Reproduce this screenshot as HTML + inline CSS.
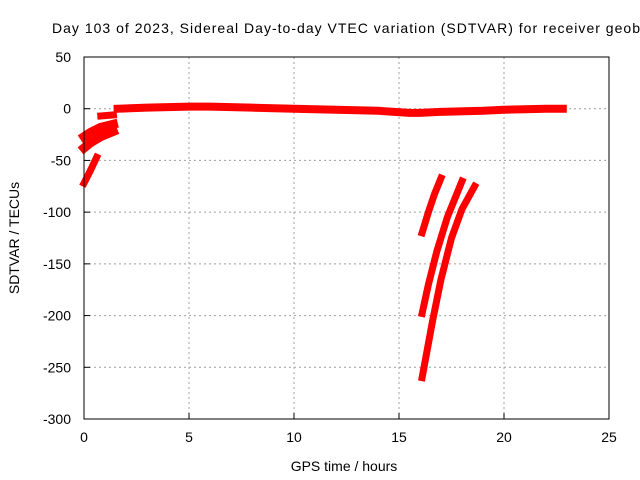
<!DOCTYPE html>
<html><head><meta charset="utf-8"><style>
body{margin:0;background:#fff}
svg{display:block;font-family:"Liberation Sans",sans-serif;font-size:14px}
</style></head><body>
<svg id="c" width="640" height="480">
<text x="52" y="33" textLength="588">Day 103 of 2023, Sidereal Day-to-day VTEC variation (SDTVAR) for receiver geob</text>
<text x="344" y="471" text-anchor="middle">GPS time / hours</text>
<text transform="translate(19,238) rotate(-90)" text-anchor="middle">SDTVAR / TECUs</text>
<g id="grid"></g><g id="marks"></g>
<rect x="84" y="57" width="525" height="362" fill="none" stroke="#000"/>
</svg>
<script>
const xTicks=[0,5,10,15,20,25];
const yTicks=[50,0,-50,-100,-150,-200,-250,-300];
const mainHours=[0.8,1.4,1.6,3,5,6,8,10,12,14,15.5,16,17,19,20,22,22.8];
const mainVals=[-7,-6,0,1,2,2,1,0,-1,-2,-4,-4,-3,-2,-1,0,0];
const arcAHours=[0,0.3,0.8,1.4];const arcAVals=[-27,-23,-18,-15];
const arcBHours=[0,0.3,0.8,1.4];const arcBVals=[-38,-33,-27,-22];
const arcCHours=[0,0.15,0.3,0.6];const arcCVals=[-72,-66,-60,-47];
const r1Hours=[16.1,16.4,16.7,17.0];const r1Vals=[-120,-100,-82,-67];
const r2Hours=[16.1,16.4,16.8,17.3,17.7,18.0];const r2Vals=[-198,-170,-138,-105,-85,-70];
const r3Hours=[16.1,16.3,16.6,17.0,17.5,18.0,18.6];const r3Vals=[-260,-238,-205,-165,-125,-97,-75];
const X=h=>84+h*21, Y=v=>57+(50-v)*362/350;
const NS="http://www.w3.org/2000/svg";
const g=document.getElementById('grid'),m=document.getElementById('marks'),svg=document.getElementById('c');
function mk(t,a,p){const e=document.createElementNS(NS,t);for(const k in a)e.setAttribute(k,a[k]);p.appendChild(e);return e;}
xTicks.forEach(t=>{const x=X(t);
 if(t>0&&t<25){const l=mk('line',{x1:x,x2:x,y1:57,y2:419,stroke:'#a0a0a0','stroke-dasharray':'2,3'},g);
 }
 const tk=mk('line',{x1:x,x2:x,y1:419,y2:413,stroke:'#000'},g);
 
 const tx=mk('text',{x:x,y:442,'text-anchor':'middle'},svg);tx.textContent=t;
 });
yTicks.forEach(t=>{const y=Y(t);
 if(t<50&&t>-300){const l=mk('line',{x1:84,x2:609,y1:y,y2:y,stroke:'#a0a0a0','stroke-dasharray':'2,3'},g);
 }
 const tk=mk('line',{x1:84,x2:90,y1:y,y2:y,stroke:'#000'},g);
 
 const tx=mk('text',{x:71,y:y+5,'text-anchor':'end'},svg);tx.textContent=t;
 });
function series(hs,vs,name,w){
 const pts=hs.map((h,i)=>X(h)+','+Y(vs[i])).join(' ');
 const p=mk('polyline',{points:pts,fill:'none',stroke:'#f00','stroke-width':w,'stroke-linejoin':'round','stroke-linecap':'square'},m);
 }
series(mainHours.slice(2),mainVals.slice(2),'series-main',8);
series(mainHours.slice(0,2),mainVals.slice(0,2),'series-main-start',7);
series(arcAHours,arcAVals,'series-arc-a',9);
series(arcBHours,arcBVals,'series-arc-b',9);
series(arcCHours,arcCVals,'series-arc-c',7);
series(r1Hours,r1Vals,'series-r1',7);
series(r2Hours,r2Vals,'series-r2',7);
series(r3Hours,r3Vals,'series-r3',7);
</script>
</body></html>
